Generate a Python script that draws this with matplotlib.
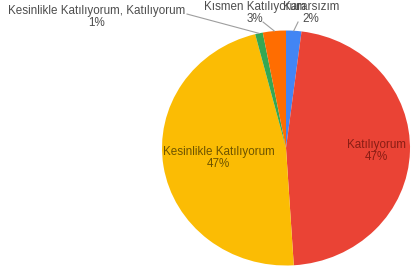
"""Pie chart of agreement levels (Kararsızım ... Kesinlikle Katılıyorum)."""

import numpy as np
import matplotlib
matplotlib.use("Agg")
import matplotlib.pyplot as plt

# data, clockwise from 12 o'clock
categories = [
    "Kararsızım",
    "Katılıyorum",
    "Kesinlikle Katılıyorum",
    "Kesinlikle Katılıyorum, Katılıyorum",
    "Kısmen Katılıyorum",
]
values = [2, 47, 47, 1, 3]
colors = ["#4285F4", "#EA4335", "#FBBC04", "#34A853", "#FF6D01"]

FONT = ["Liberation Sans", "DejaVu Sans"]
FS = 8.4

# label layout: inside radius for big slices, text/anchor spots for small ones
inside_r = {1: 0.73, 2: 0.55}
inside_color = {1: "#8a1d14", 2: "#6e5400"}
outside_text = {3: (-1.524, 1.115), 4: (-0.25, 1.149), 0: (0.20, 1.149)}
outside_anchor = {3: (-0.798, 1.140), 4: (-0.185, 1.072), 0: (0.097, 1.072)}


def main() -> None:
    fig = plt.figure(figsize=(4.12, 2.72), dpi=100)
    ax = fig.add_axes([162 / 412, 6.5 / 272, 248 / 412, 235 / 272])

    wedges, _ = ax.pie(values, colors=colors, startangle=90, counterclock=False,
                       wedgeprops=dict(linewidth=0))
    ax.set_aspect("auto")
    ax.set_xlim(-1, 1)
    ax.set_ylim(-1, 1)
    ax.axis("off")

    total = sum(values)
    for i, w in enumerate(wedges):
        mid = np.deg2rad((w.theta1 + w.theta2) / 2)
        pct = f"{round(values[i] / total * 100)}%"
        text = f"{categories[i]}\n{pct}"
        if i in inside_r:
            r = inside_r[i]
            ax.text(r * np.cos(mid), r * np.sin(mid), text, ha="center", va="center",
                    fontsize=FS, family=FONT, color=inside_color[i], linespacing=1.0)
        else:
            tx, ty = outside_text[i]
            ax.text(tx, ty, text, ha="center", va="center", fontsize=FS, family=FONT,
                    color="#4d4d4d", linespacing=1.0, clip_on=False)
            ax_, ay_ = outside_anchor[i]
            ax.plot([ax_, np.cos(mid)], [ay_, np.sin(mid)], color="#9e9e9e",
                    linewidth=0.8, clip_on=False)

    fig.savefig("out.png", dpi=100)


if __name__ == "__main__":
    main()
